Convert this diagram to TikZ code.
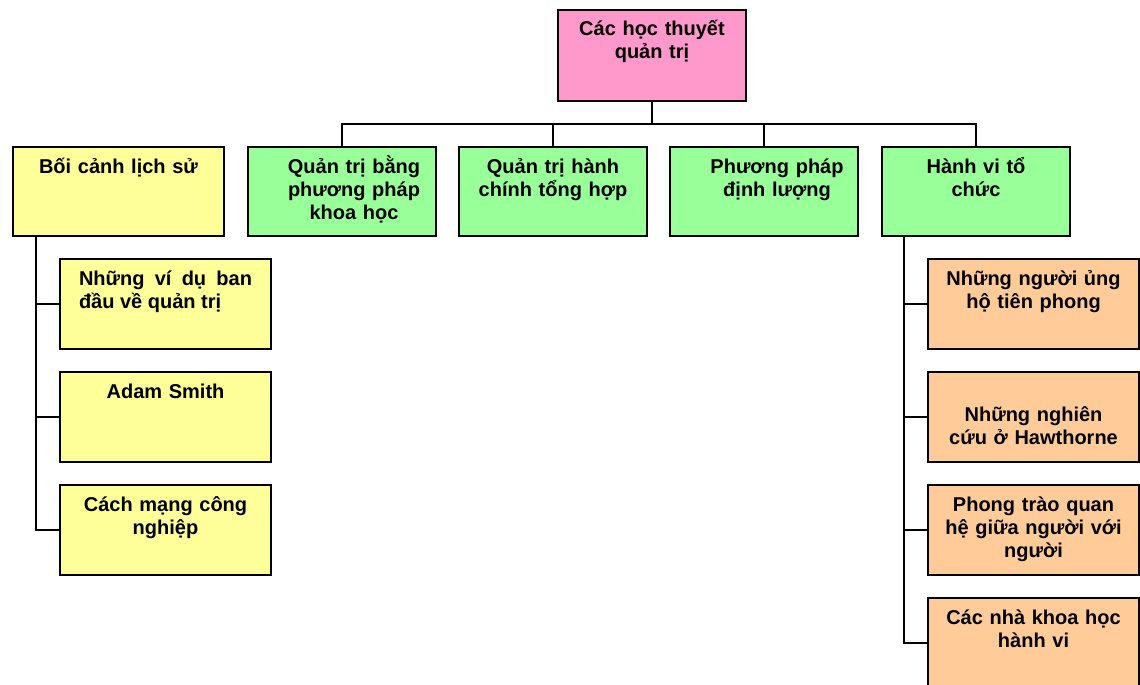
\documentclass[tikz,border=0pt]{standalone}
\usepackage{fontspec}
\setmainfont{Liberation Sans}
\definecolor{rootpink}{HTML}{FF99CC}
\definecolor{theorygreen}{HTML}{99FF99}
\definecolor{histyellow}{HTML}{FFFF99}
\definecolor{behavorange}{HTML}{FFCC99}
\begin{document}
\begin{tikzpicture}[x=1pt,y=-1pt,
box/.style={draw,line width=2pt,anchor=north west,inner sep=0pt,minimum width=211,minimum height=90},
rootbox/.style={box,fill=rootpink,minimum width=188,minimum height=91},
greenbox/.style={box,fill=theorygreen,minimum width=188,minimum height=89},
yellowbox/.style={box,fill=histyellow},
orangebox/.style={box,fill=behavorange},
txt/.style={font=\bfseries\fontsize{20}{23}\selectfont,text width=190,align=center,anchor=base,yshift=-27}]
\tikzstyle{every path}=[line width=2pt]
\useasboundingbox (0,0) rectangle (1140,685);
\node[rootbox,label={[txt]north:Các học thuyết\\quản trị}] (thuyet) at (557,9) {};
% top row
\node[yellowbox,minimum height=89,label={[txt]north:Bối cảnh lịch sử}] (lichsu) at (12,146) {};
\node[greenbox,label={[txt,xshift=12]north:Quản trị bằng\\phương pháp\\khoa học}] (khoahoc) at (247,146) {};
\node[greenbox,label={[txt]north:Quản trị hành\\chính tổng hợp}] (hanhchinh) at (458,146) {};
\node[greenbox,label={[txt,xshift=13]north:Phương pháp\\định lượng}] (dinhluong) at (669,146) {};
\node[greenbox,label={[txt]north:Hành vi tổ\\chức}] (hanhvi) at (881,146) {};
% history
\node[yellowbox,label={[txt,text width=173,align=justify]north:Những ví dụ ban đầu về quản trị}] (vidu) at (59,258) {};
\node[yellowbox,label={[txt]north:Adam Smith}] (smith) at (59,371) {};
\node[yellowbox,label={[txt]north:Cách mạng công\\nghiệp}] (cachmang) at (59,484) {};
% behaviour
\node[orangebox,label={[txt]north:Những người ủng\\hộ tiên phong}] (tienphong) at (927,258) {};
\node[orangebox,label={[txt,yshift=-23]north:Những nghiên\\cứu ở Hawthorne}] (hawthorne) at (927,371) {};
\node[orangebox,label={[txt]north:Phong trào quan\\hệ giữa người với\\người}] (phongtrao) at (927,484) {};
\node[orangebox,label={[txt]north:Các nhà khoa học\\hành vi}] (nhakhoahoc) at (927,597) {};
% bus
\draw (thuyet.south) -- ++(0,22) coordinate (bus);
\draw (khoahoc.north) |- (bus) -| (hanhvi.north);
\draw (hanhchinh.north) -- (hanhchinh.north |- bus);
\draw (dinhluong.north) -- (dinhluong.north |- bus);
% left trunk
\coordinate (ltrunk) at ([xshift=24]lichsu.south west);
\draw (ltrunk) |- (cachmang.west);
\draw (vidu.west) -- (vidu.west -| ltrunk);
\draw (smith.west) -- (smith.west -| ltrunk);
% right trunk
\coordinate (rtrunk) at ([xshift=23]hanhvi.south west);
\draw (rtrunk) |- (nhakhoahoc.west);
\draw (tienphong.west) -- (tienphong.west -| rtrunk);
\draw (hawthorne.west) -- (hawthorne.west -| rtrunk);
\draw (phongtrao.west) -- (phongtrao.west -| rtrunk);
\end{tikzpicture}
\end{document}
